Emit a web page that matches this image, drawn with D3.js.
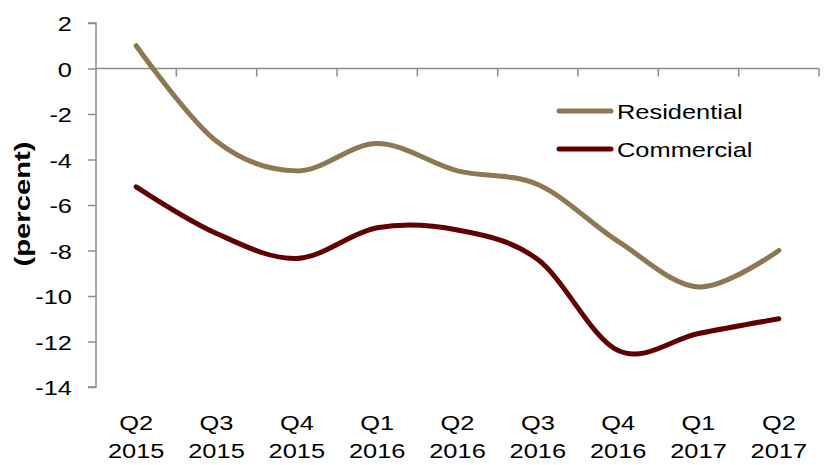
<!DOCTYPE html>
<html>
<head>
<meta charset="utf-8">
<script src="https://cdn.jsdelivr.net/npm/d3@7"></script>
<style>
  body { margin: 0; background: #fff; }
  text { font-family: "Liberation Sans", Arial, sans-serif; fill: #000; }
</style>
</head>
<body>
<div class="chart"></div>
<script>
const quarters = ["Q2", "Q3", "Q4", "Q1", "Q2", "Q3", "Q4", "Q1", "Q2"];
const years = ["2015", "2015", "2015", "2016", "2016", "2016", "2016", "2017", "2017"];
const residential = [1.0, -3.2, -4.5, -3.3, -4.5, -5.1, -7.6, -9.6, -8.0];
const commercial = [-5.2, -7.25, -8.35, -7.0, -7.1, -8.4, -12.4, -11.65, -11.0];
const yTicks = [2, 0, -2, -4, -6, -8, -10, -12, -14];

const width = 825;
const height = 465;
const plot = { left: 96, right: 819, top: 23, bottom: 387 };
const fontSize = "20.5px";
const stretch = 1.24; // text in the picture is drawn wide

const series = [
  { name: "Residential", values: residential, color: "#8c7853" },
  { name: "Commercial", values: commercial, color: "#600000" },
];

const svg = d3
  .select(".chart")
  .append("svg")
  .attr("width", width)
  .attr("height", height);

const x = d3
  .scaleBand()
  .domain(d3.range(quarters.length))
  .range([plot.left, plot.right]);

const y = d3.scaleLinear().domain([-14, 2]).range([plot.bottom, plot.top]);

const axisColor = "#8c8c8c";

function wideText(sel, xf, yf, anchor) {
  return sel
    .attr("transform", (d, i) => `translate(${xf(d, i)},${yf(d, i)}) scale(${stretch},1)`)
    .attr("text-anchor", anchor)
    .style("font-size", fontSize);
}

// y axis
const yAxis = svg
  .append("g")
  .attr("transform", `translate(${plot.left},0)`)
  .call(d3.axisLeft(y).tickValues(yTicks).tickSize(8).tickFormat(""));
yAxis.select(".domain").attr("stroke", axisColor).attr("stroke-width", 1.5)
  .attr("d", `M-8,${y(2)}H0V${y(-14)}H-8`);
yAxis.selectAll(".tick line").attr("stroke", axisColor).attr("stroke-width", 1.5);

svg.append("g")
  .selectAll("text")
  .data(yTicks)
  .join("text")
  .call(wideText, () => 72, (d) => y(d) + 8, "end")
  .text((d) => String(d));

// x axis along zero line
const xAxis = svg.append("g").attr("transform", `translate(0,${y(0)})`);
xAxis.append("line")
  .attr("x1", plot.left).attr("x2", plot.right)
  .attr("stroke", axisColor).attr("stroke-width", 1.5);
xAxis.selectAll("line.tick")
  .data(d3.range(1, quarters.length + 1))
  .join("line")
  .attr("class", "tick")
  .attr("x1", (i) => plot.left + i * x.step())
  .attr("x2", (i) => plot.left + i * x.step())
  .attr("y1", 0).attr("y2", 8)
  .attr("stroke", axisColor).attr("stroke-width", 1.5);

// category labels below plot
const labels = svg.append("g");
labels.selectAll("text.q")
  .data(quarters)
  .join("text")
  .attr("class", "q")
  .call(wideText, (d, i) => x(i) + x.bandwidth() / 2, () => 430, "middle")
  .text((d) => d);
labels.selectAll("text.yr")
  .data(years)
  .join("text")
  .attr("class", "yr")
  .call(wideText, (d, i) => x(i) + x.bandwidth() / 2, () => 458, "middle")
  .text((d) => d);

// y title
svg.append("text")
  .attr("transform", "translate(30,204) rotate(-90)")
  .attr("text-anchor", "middle")
  .attr("textLength", 125)
  .attr("lengthAdjust", "spacingAndGlyphs")
  .style("font-size", "22px")
  .style("font-weight", "bold")
  .text("(percent)");

// lines
const line = d3
  .line()
  .x((d, i) => x(i) + x.bandwidth() / 2)
  .y((d) => y(d))
  .curve(d3.curveCatmullRom.alpha(0));

svg.append("g")
  .selectAll("path")
  .data(series)
  .join("path")
  .attr("d", (d) => line(d.values))
  .attr("fill", "none")
  .attr("stroke", (d) => d.color)
  .attr("stroke-width", 5)
  .attr("stroke-linecap", "round");

// legend
const legend = svg.append("g")
  .selectAll("g")
  .data(series)
  .join("g")
  .attr("transform", (d, i) => `translate(0,${111 + i * 38})`);
legend.append("line")
  .attr("x1", 559).attr("x2", 611)
  .attr("stroke", (d) => d.color)
  .attr("stroke-width", 5)
  .attr("stroke-linecap", "round");
legend.append("text")
  .call(wideText, () => 617, () => 8, "start")
  .text((d) => d.name);
</script>
</body>
</html>
